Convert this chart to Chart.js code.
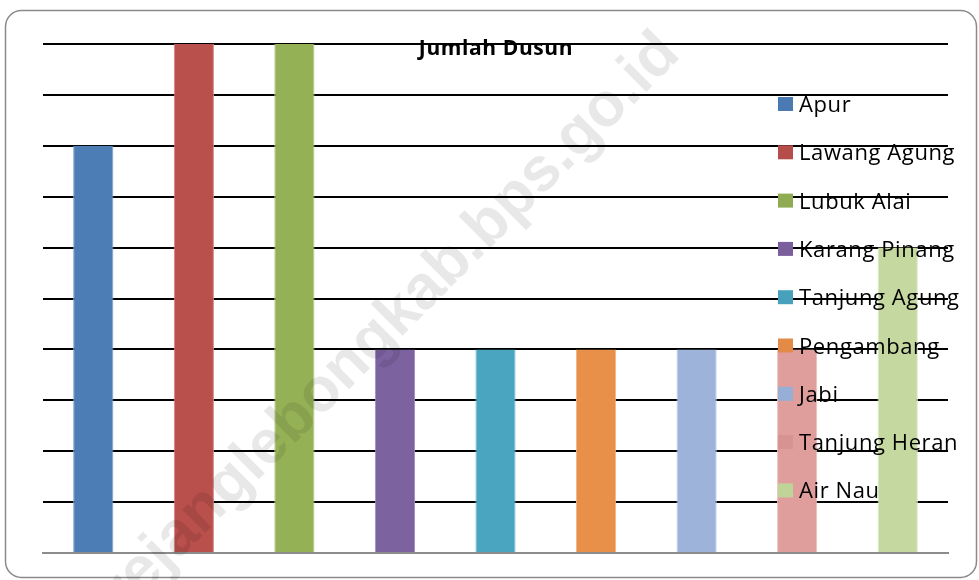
<!DOCTYPE html>
<html>
<head>
<meta charset="utf-8">
<title>Jumlah Dusun</title>
<script src="https://cdn.jsdelivr.net/npm/chart.js@4.4.1/dist/chart.umd.min.js"></script>
<style>
    html, body { margin: 0; padding: 0; background: #ffffff; }
    #wrap { position: relative; width: 979px; height: 580px; }
</style>
</head>
<body>
<div id="wrap"><canvas id="dusunChart" width="979" height="580"></canvas></div>
<script>
// --- Data ---
const chartTitle = 'Jumlah Dusun';
const categories = ['Apur', 'Lawang Agung', 'Lubuk Alai', 'Karang Pinang', 'Tanjung Agung', 'Pengambang', 'Jabi', 'Tanjung Heran', 'Air Nau'];
const dusunCounts = [4, 5, 5, 2, 2, 2, 2, 2, 3];
const barColors = ['#4d7db5', '#b9504c', '#95b156', '#7d62a0', '#4aa5c0', '#e8904a', '#9db3da', '#df9e9c', '#c5d89f'];
const barEdges = ['#7fa3cf', '#d78884', '#b8cf8d', '#a48fc0', '#84c6d8', '#f3b587', '#c3d2eb', '#ecc0bf', '#dde9c4'];
const legendColors = ['#4a7ab1', '#b54e4a', '#8fac53', '#7a5f9c', '#47a1bc', '#e38b46', '#97aed6', '#d69391', '#bfd499'];
const watermark = 'rejanglebongkab.bps.go.id';

// --- Plugins ---
// rounded frame behind everything
const framePlugin = {
    id: 'frame',
    beforeDraw(chart) {
        const ctx = chart.ctx;
        ctx.save();
        ctx.fillStyle = '#ffffff';
        ctx.fillRect(0, 0, chart.width, chart.height);
        ctx.strokeStyle = '#8a8a8a';
        ctx.lineWidth = 1.5;
        ctx.beginPath();
        ctx.roundRect(5.5, 10.5, 971, 567, 16);
        ctx.stroke();
        ctx.restore();
    }
};

// title + legend sit on top of the plot area, like the original
const overlayPlugin = {
    id: 'overlay',
    afterDatasetsDraw(chart) {
        const ctx = chart.ctx;
        ctx.save();

        // title
        ctx.fillStyle = '#000000';
        ctx.font = 'bold 21px "Open Sans"';
        ctx.letterSpacing = '0.6px';
        ctx.textAlign = 'center';
        ctx.textBaseline = 'alphabetic';
        ctx.fillText(chartTitle, 496, 55);

        // legend
        ctx.font = '22px "Open Sans"';
        ctx.textAlign = 'left';
        categories.forEach((name, i) => {
            const y = 104 + i * 48.3;
            ctx.fillStyle = legendColors[i];
            ctx.fillRect(778, y - 7, 15, 14);
            ctx.fillStyle = '#000000';
            ctx.fillText(name, 799, y + 8);
        });

        ctx.restore();
    },
    afterDraw(chart) {
        // faint diagonal watermark
        const ctx = chart.ctx;
        ctx.save();
        ctx.translate(670, 44);
        ctx.rotate(-Math.PI / 4);
        ctx.font = 'bold 62px "Liberation Sans"';
        ctx.fillStyle = 'rgba(0, 0, 0, 0.09)';
        ctx.textAlign = 'right';
        ctx.textBaseline = 'middle';
        ctx.fillText(watermark, 0, 0);
        ctx.restore();
    }
};

// --- Chart ---
const ctx = document.getElementById('dusunChart').getContext('2d');
new Chart(ctx, {
    type: 'bar',
    data: {
        labels: categories,
        datasets: [{
            label: chartTitle,
            data: dusunCounts,
            backgroundColor: barColors,
            borderColor: barEdges,
            borderWidth: { left: 1, right: 1, top: 0, bottom: 0 },
            borderSkipped: false,
            categoryPercentage: 1,
            barPercentage: 0.4
        }]
    },
    options: {
        responsive: false,
        animation: false,
        layout: {
            padding: { left: 43, right: 31, top: 44, bottom: 27 }
        },
        plugins: {
            legend: { display: false },
            title: { display: false },
            tooltip: { enabled: false }
        },
        scales: {
            x: {
                grid: { display: false, drawTicks: false },
                border: { display: true, color: '#8c8c8c', width: 2 },
                ticks: { display: false }
            },
            y: {
                min: 0,
                max: 5,
                grid: { color: '#000000', lineWidth: 2, drawTicks: false },
                border: { display: false },
                ticks: { display: false, stepSize: 0.5 }
            }
        }
    },
    plugins: [framePlugin, overlayPlugin]
});
</script>
</body>
</html>
